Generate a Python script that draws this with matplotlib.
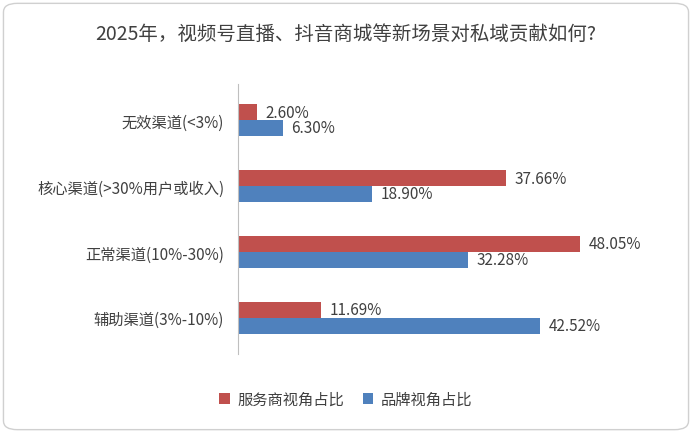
import matplotlib.pyplot as plt
import numpy as np
from matplotlib.patches import FancyBboxPatch

plt.rcParams['font.family'] = ['Noto Sans CJK SC', 'DejaVu Sans']

categories = ['无效渠道(<3%)', '核心渠道(>30%用户或收入)', '正常渠道(10%-30%)', '辅助渠道(3%-10%)']
service = [2.60, 37.66, 48.05, 11.69]
brand = [6.30, 18.90, 32.28, 42.52]

fig = plt.figure(figsize=(6.92, 4.35), dpi=100)
border = FancyBboxPatch((0.005, 0.01), 0.99, 0.98, boxstyle='round,pad=0,rounding_size=0.02',
                        transform=fig.transFigure, fc='white', ec='#d0d0d0', lw=1, zorder=-10)
fig.patches.append(border)
ax = fig.add_axes([0.344, 0.184, 0.596, 0.621])
ax.patch.set_alpha(0)

y = np.arange(len(categories))
h = 0.24
b1 = ax.barh(y - h / 2, service, h, color='#C0504D', label='服务商视角占比')
b2 = ax.barh(y + h / 2, brand, h, color='#4F81BD', label='品牌视角占比')
for bars in (b1, b2):
    for r in bars:
        ax.text(r.get_width() + 1.2, r.get_y() + r.get_height() / 2, f'{r.get_width():.2f}%',
                va='center', ha='left', fontsize=11, color='#404040')

ax.set_xlim(0, 58)
ax.set_ylim(3.55, -0.55)
ax.set_yticks(y)
ax.set_yticklabels(categories, fontsize=11, color='#404040')
ax.tick_params(axis='y', length=0, pad=10)
ax.set_xticks([])
for s in ['top', 'right', 'bottom']:
    ax.spines[s].set_visible(False)
ax.spines['left'].set_color('#bfbfbf')

fig.text(0.5, 0.92, '2025年，视频号直播、抖音商城等新场景对私域贡献如何?', ha='center', va='center',
         fontsize=14, color='#404040')
fig.legend(handles=[b1, b2], loc='center', bbox_to_anchor=(0.5, 0.08), ncol=2, frameon=False,
           fontsize=11, handlelength=0.7, handleheight=0.7, columnspacing=1.2, handletextpad=0.5,
           labelcolor='#404040')

fig.savefig('out.png', dpi=100)
